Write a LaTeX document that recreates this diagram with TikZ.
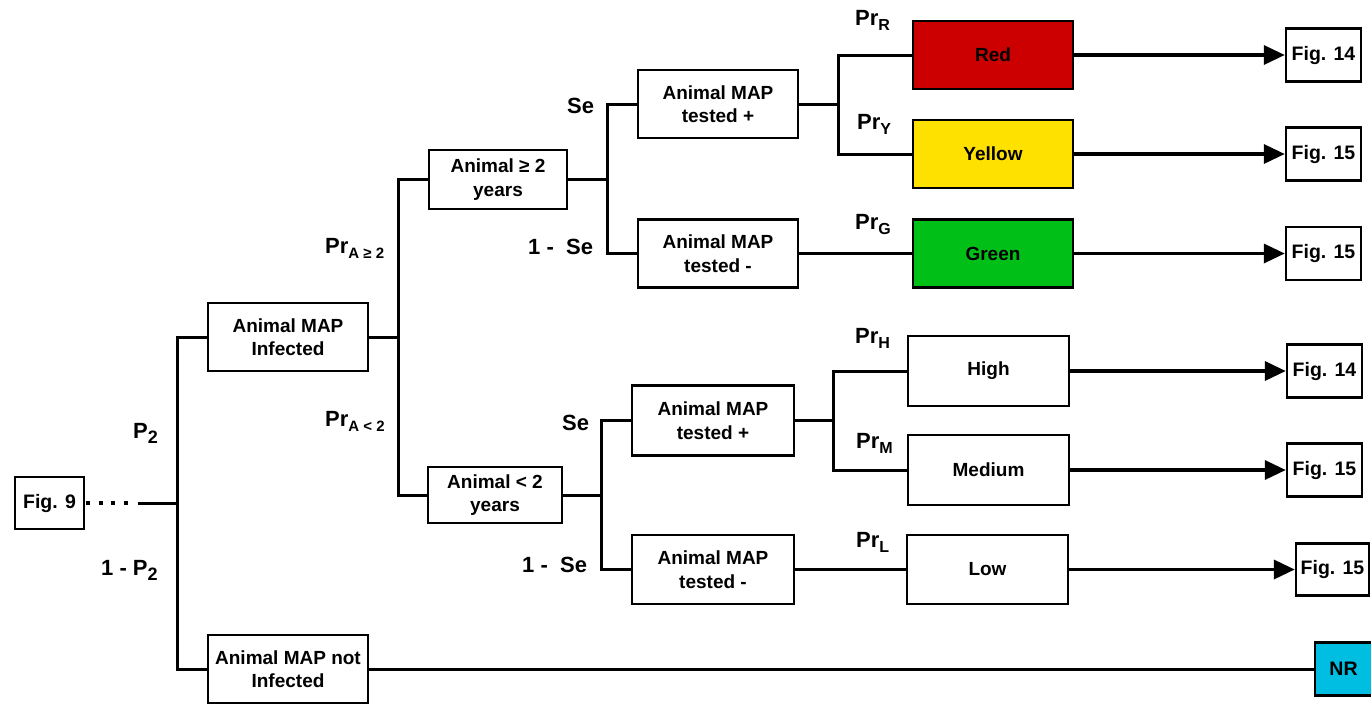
\documentclass[tikz,border=0pt]{standalone}
\usepackage{fontspec}
\setmainfont{Liberation Sans}
\usetikzlibrary{arrows.meta}
\definecolor{boxred}{RGB}{204,0,0}
\definecolor{boxyellow}{RGB}{255,225,0}
\definecolor{boxgreen}{RGB}{0,192,24}
\definecolor{boxcyan}{RGB}{0,190,225}
% lowered, smaller subscript for probability labels
\newcommand\lblsub[2]{\raisebox{-5pt}{\fontsize{#1}{#1}\selectfont #2}}
\tikzset{
  box/.style={draw, line width=2.4pt, fill=white, inner sep=0pt, align=center,
    font=\bfseries\fontsize{19}{23.5}\selectfont,
    minimum width=160pt, minimum height=68pt},
  figbox/.style={box, font=\bfseries\fontsize{19.5}{23.5}\selectfont,
    minimum width=75pt, minimum height=53pt},
  link/.style={line width=3pt},
  outarrow/.style={line width=3.5pt, -{Triangle[length=21pt,width=19pt]}},
  prob/.style={inner sep=0pt, anchor=base west, font=\bfseries\fontsize{22}{22}\selectfont}
}
\begin{document}
\begin{tikzpicture}[x=1pt,y=-1pt]
\useasboundingbox (0,0) rectangle (1371,705);

% ---- boxes ----
\node[figbox, minimum width=69pt, minimum height=52pt] (fig9) at (49.5,503) {Fig. 9};
\node[box] (inf)    at (288,337)   {Animal MAP\\Infected};
\node[box] (notinf) at (288,669)   {Animal MAP not\\Infected};
\node[box, minimum width=138pt, minimum height=59pt] (ge2) at (498,179.5) {Animal ≥ 2\\years};
\node[box, minimum width=134pt, minimum height=56pt] (lt2) at (495,495)   {Animal < 2\\years};
\node[box] (tp1) at (718,104)   {Animal MAP\\tested +};
\node[box] (tn1) at (718,253.5) {Animal MAP\\tested -};
\node[box, minimum width=162pt, minimum height=70pt] (tp2) at (713,420.5) {Animal MAP\\tested +};
\node[box, minimum width=162pt, minimum height=69pt] (tn2) at (713,569.5) {Animal MAP\\tested -};
\node[box, fill=boxred]    (red)    at (993,55)    {Red};
\node[box, fill=boxyellow] (yellow) at (993,154)   {Yellow};
\node[box, fill=boxgreen]  (green)  at (993,253.5) {Green};
\node[box, minimum width=161pt, minimum height=70pt] (high)   at (988.5,371)   {High};
\node[box, minimum width=161pt, minimum height=70pt] (medium) at (988.5,470)   {Medium};
\node[box, minimum width=161pt, minimum height=69pt] (low)    at (987.5,569.5) {Low};
\node[figbox] (f14a) at (1323.5,55)    {Fig. 14};
\node[figbox] (f15a) at (1323.5,154)   {Fig. 15};
\node[figbox] (f15b) at (1323.5,253.5) {Fig. 15};
\node[figbox] (f14b) at (1324.5,371)   {Fig. 14};
\node[figbox] (f15c) at (1324.5,470)   {Fig. 15};
\node[figbox, minimum width=73pt, minimum height=52pt] (f15d) at (1332.5,569.5) {Fig. 15};
\node[figbox, fill=boxcyan, minimum width=57pt] (nr) at (1343.5,669) {NR};

% ---- junction points ----
\coordinate (stub) at (138,503);
\coordinate (j0) at (177,503);
\coordinate (j1) at (398,337);
\coordinate (j2) at (607,179.5);
\coordinate (j3) at (601,495);
\coordinate (j4) at (838,104);
\coordinate (j5) at (833,420.5);

% ---- connectors ----
\draw[line width=3.5pt, dash pattern=on 4pt off 8.5pt] (fig9.east) ++(1pt,0) coordinate (dotstart) -- (dotstart -| 128,0);
\draw[link] (stub) -- (j0);
\draw[link] (inf.west) -| (j0) |- (notinf.west);
\draw[link] (inf.east) -- (j1);
\draw[link] (ge2.west) -| (j1) |- (lt2.west);
\draw[link] (ge2.east) -- (j2);
\draw[link] (tp1.west) -| (j2) |- (tn1.west);
\draw[link] (lt2.east) -- (j3);
\draw[link] (tp2.west) -| (j3) |- (tn2.west);
\draw[link] (tp1.east) -- (j4);
\draw[link] (red.west) -| (j4) |- (yellow.west);
\draw[link] (tn1.east) -- (green.west);
\draw[link] (tp2.east) -- (j5);
\draw[link] (high.west) -| (j5) |- (medium.west);
\draw[link] (tn2.east) -- (low.west);
\draw[link] (notinf.east) -- (nr.west);

\draw[outarrow] (red.east)    -- (f14a.west);
\draw[outarrow] (yellow.east) -- (f15a.west);
\draw[outarrow] (green.east)  -- (f15b.west);
\draw[outarrow] (high.east)   -- (f14b.west);
\draw[outarrow] (medium.east) -- (f15c.west);
\draw[outarrow] (low.east)    -- (f15d.west);

% ---- branch probabilities ----
\node[prob] (p2)   at (133,438) {P\lblsub{18}{2}};
\node[prob] (np2)  at (101,575) {1 - P\lblsub{18}{2}};
\node[prob] (pra)  at (325,253) {Pr\lblsub{15}{A ≥ 2}};
\node[prob] (prb)  at (325,426) {Pr\lblsub{15}{A < 2}};
\node[prob] (se1)  at (567,113) {Se};
\node[prob] (nse1) at (528,254) {1 -~~Se};
\node[prob] (se2)  at (562,430) {Se};
\node[prob] (nse2) at (522,572) {1 -~~Se};
\node[prob] (prr)  at (855,25)  {Pr\lblsub{16}{R}};
\node[prob] (pry)  at (857,129) {Pr\lblsub{16}{Y}};
\node[prob] (prg)  at (855,229) {Pr\lblsub{16}{G}};
\node[prob] (prh)  at (855,343) {Pr\lblsub{16}{H}};
\node[prob] (prm)  at (856,448) {Pr\lblsub{16}{M}};
\node[prob] (prl)  at (856,547) {Pr\lblsub{16}{L}};
\end{tikzpicture}
\end{document}
